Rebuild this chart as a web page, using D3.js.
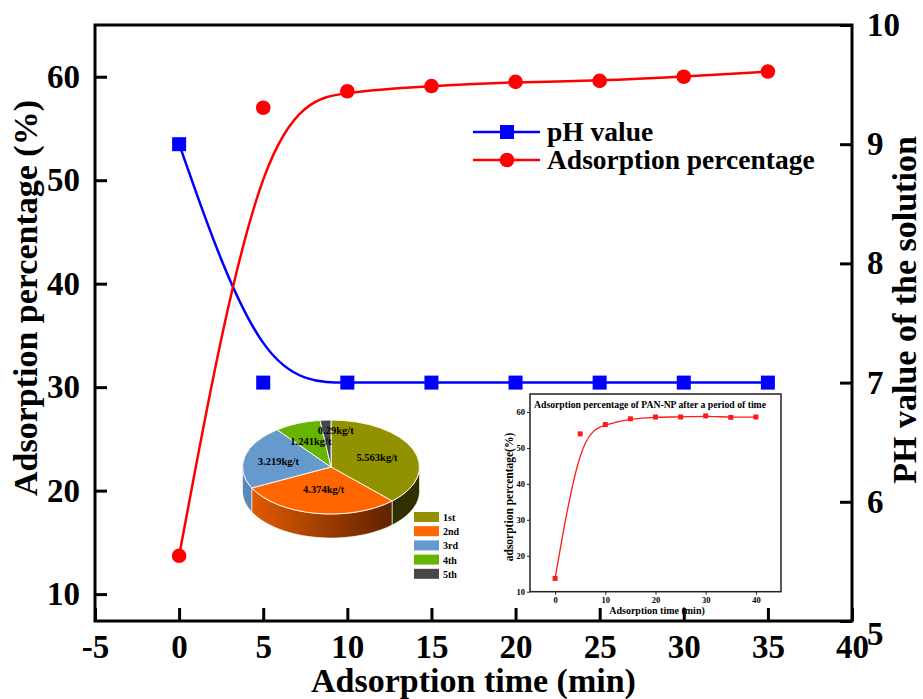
<!DOCTYPE html>
<html>
<head>
<meta charset="utf-8">
<script src="https://cdn.jsdelivr.net/npm/d3@7"></script>
<style>
  body { margin: 0; background: #fff; }
  text { font-family: "Liberation Serif", "Times New Roman", serif; font-weight: bold; fill: #000; }
</style>
</head>
<body>
<svg id="chart" width="923" height="699"></svg>
<script>
// ---- main series ----
const times = [0, 5, 10, 15, 20, 25, 30, 35];
const phValues = [9.0, 7.0, 7.0, 7.0, 7.0, 7.0, 7.0, 7.0];
const adsorption = [13.7, 57.0, 58.6, 59.1, 59.5, 59.6, 60.0, 60.5];
const xTicks = [-5, 0, 5, 10, 15, 20, 25, 30, 35, 40];
const leftTicks = [10, 20, 30, 40, 50, 60];
const rightTicks = [5, 6, 7, 8, 9, 10];
const legendNames = ["pH value", "Adsorption percentage"];

// ---- pie of adsorption per cycle ----
const pieLabels = ["1st", "2nd", "3rd", "4th", "5th"];
const pieValues = [5.563, 4.374, 3.219, 1.241, 0.29];
const pieColors = ["#929200", "#ff6600", "#6699cc", "#66b300", "#474747"];

// ---- inset curve ----
const insetTimes = [0, 5, 10, 15, 20, 25, 30, 35, 40];
const insetAdsorption = [13.7, 53.9, 56.5, 58.1, 58.6, 58.6, 58.9, 58.5, 58.6];
const insetXTicks = [0, 10, 20, 30, 40];
const insetYTicks = [10, 20, 30, 40, 50, 60];

const svg = d3.select("#chart");
const defs = svg.append("defs");

// ================= main plot frame =================
const L = 95, R = 852, T = 25, B = 621;
const x = d3.scaleLinear().domain([-5, 40]).range([L, R]);
const yL = d3.scaleLinear().domain([7.4, 65]).range([B, T]);
const yR = d3.scaleLinear().domain([5, 10]).range([B, T]);

// ================= inset chart =================
const inset = svg.append("g");
const iL = 530, iR = 781, iT = 394, iB = 591.7;
const ix = d3.scaleLinear().domain([-5, 45]).range([iL, iR]);
const iy = d3.scaleLinear().domain([10, 65]).range([iB, iT]);

inset.append("g")
  .attr("transform", `translate(0,${iB})`)
  .call(d3.axisBottom(ix).tickValues(insetXTicks).tickSize(3).tickPadding(2))
  .call(g => g.select(".domain").remove())
  .call(g => g.selectAll("line").attr("stroke", "#222").attr("stroke-width", 1))
  .call(g => g.selectAll("text").style("font-size", "8.5px").attr("fill", "#222"));
inset.append("g")
  .attr("transform", `translate(${iL},0)`)
  .call(d3.axisLeft(iy).tickValues(insetYTicks).tickSize(3).tickPadding(2))
  .call(g => g.select(".domain").remove())
  .call(g => g.selectAll("line").attr("stroke", "#222").attr("stroke-width", 1))
  .call(g => g.selectAll("text").style("font-size", "8.5px").attr("fill", "#222"));
inset.append("rect")
  .attr("x", iL).attr("y", iT).attr("width", iR - iL).attr("height", iB - iT)
  .attr("fill", "none").attr("stroke", "#222").attr("stroke-width", 1.5);

const insetLine = d3.line().curve(d3.curveBasis)
  .x((d, i) => ix(insetTimes[i])).y(d => iy(d));
inset.append("path").datum(insetAdsorption)
  .attr("d", insetLine).attr("fill", "none").attr("stroke", "#ff1a1a").attr("stroke-width", 1.3);
inset.selectAll("rect.pt").data(insetAdsorption).join("rect").attr("class", "pt")
  .attr("x", (d, i) => ix(insetTimes[i]) - 2.5).attr("y", d => iy(d) - 2.5)
  .attr("width", 5).attr("height", 5).attr("fill", "#ff1a1a");

inset.append("text").attr("x", 650).attr("y", 408).attr("text-anchor", "middle")
  .style("font-size", "9.7px").attr("fill", "#222")
  .text("Adsorption percentage of PAN-NP after a period of time");
inset.append("text").attr("x", 657).attr("y", 614).attr("text-anchor", "middle")
  .style("font-size", "10px").attr("fill", "#222")
  .text("Adsorption time (min)");
inset.append("text")
  .attr("transform", `translate(513,497) rotate(-90)`).attr("text-anchor", "middle")
  .style("font-size", "11.5px").attr("fill", "#222")
  .text("adsorption percentage(%)");

// ================= 3D pie =================
const pc = { cx: 331, cy: 467, rx: 88.5, ry: 47, depth: 24 };
const arcs = d3.pie().sort(null).value(d => d)(pieValues);
const pieG = svg.append("g");
const pt = (a, dy = 0) => [pc.cx + pc.rx * Math.sin(a), pc.cy - pc.ry * Math.cos(a) + dy];

const sideShades = [
  ["#4a4a00", "#2f2f00"],
  ["#ea5e00", "#5e2200"],
  ["#5c8ab8", "#4a76a0"],
  ["#4f8a00", "#3d6b00"],
  ["#333333", "#222222"]
];
sideShades.forEach((s, i) => {
  const gr = defs.append("linearGradient").attr("id", "side" + i)
    .attr("gradientUnits", "userSpaceOnUse")
    .attr("x1", pc.cx - pc.rx).attr("x2", pc.cx + pc.rx * 0.7).attr("y1", 0).attr("y2", 0);
  gr.append("stop").attr("offset", 0).attr("stop-color", s[0]);
  gr.append("stop").attr("offset", 1).attr("stop-color", s[1]);
});

// side walls: only the front half of the rim is visible
arcs.forEach((a, i) => {
  const s = Math.max(a.startAngle, Math.PI / 2);
  const e = Math.min(a.endAngle, Math.PI * 3 / 2);
  if (e <= s) return;
  const steps = d3.range(0, 41).map(k => s + (e - s) * k / 40);
  const top = steps.map(t => pt(t));
  const bottom = steps.slice().reverse().map(t => pt(t, pc.depth));
  pieG.append("path")
    .attr("d", d3.line()(top.concat(bottom)) + "Z")
    .attr("fill", `url(#side${i})`)
    .attr("stroke", "#ffffff").attr("stroke-width", 0.6);
});

const topG = pieG.append("g")
  .attr("transform", `translate(${pc.cx},${pc.cy}) scale(1,${pc.ry / pc.rx})`);
topG.selectAll("path").data(arcs).join("path")
  .attr("d", d3.arc().innerRadius(0).outerRadius(pc.rx))
  .attr("fill", (d, i) => pieColors[i])
  .attr("stroke", "#fff").attr("stroke-width", 0.9)
  .attr("vector-effect", "non-scaling-stroke");

// value labels on the top face
const labelRadius = [0.56, 0.48, 0.61, 0.6, 0.78];
const labelShift = [0, 0, 0, 0, 9];
pieG.selectAll("text.val").data(arcs).join("text").attr("class", "val")
  .attr("x", (d, i) => pc.cx + pc.rx * labelRadius[i] * Math.sin((d.startAngle + d.endAngle) / 2) + labelShift[i])
  .attr("y", (d, i) => pc.cy - pc.ry * labelRadius[i] * Math.cos((d.startAngle + d.endAngle) / 2) + 4)
  .attr("text-anchor", "middle")
  .style("font-size", "10.5px").attr("fill", "#111")
  .text(d => d.value + "kg/t");

// pie legend
const pl = svg.append("g");
pieLabels.forEach((name, i) => {
  const yy = 512 + i * 14.2;
  pl.append("rect").attr("x", 414).attr("y", yy).attr("width", 25).attr("height", 10)
    .attr("fill", pieColors[i]);
  pl.append("text").attr("x", 443).attr("y", yy + 9).style("font-size", "10px").text(name);
});

// ================= main axes =================
const axB = svg.append("g").attr("transform", `translate(0,${B})`)
  .call(d3.axisBottom(x).tickValues(xTicks).tickSize(-13).tickPadding(14).tickFormat(d3.format("d")));
const axL = svg.append("g").attr("transform", `translate(${L},0)`)
  .call(d3.axisLeft(yL).tickValues(leftTicks).tickSize(-12).tickPadding(15).tickFormat(d3.format("d")));
const axR = svg.append("g").attr("transform", `translate(${R},0)`)
  .call(d3.axisRight(yR).tickValues(rightTicks).tickSize(-12).tickPadding(15).tickFormat(d3.format("d")));
[axB, axL, axR].forEach(g => {
  g.select(".domain").remove();
  g.selectAll("line").attr("stroke", "#000").attr("stroke-width", 3);
  g.selectAll("text").style("font-size", "33px").attr("fill", "#000")
    .style("font-family", '"Liberation Serif", serif').style("font-weight", "bold");
});
axB.selectAll("text").text(d => d < 0 ? "-" + Math.abs(d) : d);
// the lowest right-hand label sits a little below the corner
axR.selectAll(".tick").filter(d => d === 5).select("text").attr("dy", "0.7em");

svg.append("rect").attr("x", L).attr("y", T).attr("width", R - L).attr("height", B - T)
  .attr("fill", "none").attr("stroke", "#000").attr("stroke-width", 3);

// axis titles
svg.append("text").attr("x", (L + R) / 2).attr("y", 692).attr("text-anchor", "middle")
  .style("font-size", "34px").text("Adsorption time (min)");
svg.append("text").attr("transform", "translate(37,298) rotate(-90)").attr("text-anchor", "middle")
  .style("font-size", "34px").text("Adsorption percentage (%)");
svg.append("text").attr("transform", "translate(916,310) rotate(-90)").attr("text-anchor", "middle")
  .style("font-size", "34px").text("PH value of the solution");

// ================= main series =================
const blue = "#0000ff", red = "#ff0000";
const phLine = d3.line().curve(d3.curveBasis).x((d, i) => x(times[i])).y(d => yR(d));
const adLine = d3.line().curve(d3.curveBasis).x((d, i) => x(times[i])).y(d => yL(d));

svg.append("path").datum(phValues).attr("d", phLine)
  .attr("fill", "none").attr("stroke", blue).attr("stroke-width", 2.5);
svg.append("path").datum(adsorption).attr("d", adLine)
  .attr("fill", "none").attr("stroke", red).attr("stroke-width", 2.5);

svg.selectAll("rect.ph").data(phValues).join("rect").attr("class", "ph")
  .attr("x", (d, i) => x(times[i]) - 7).attr("y", d => yR(d) - 7)
  .attr("width", 14).attr("height", 14).attr("fill", blue);
svg.selectAll("circle.ad").data(adsorption).join("circle").attr("class", "ad")
  .attr("cx", (d, i) => x(times[i])).attr("cy", d => yL(d)).attr("r", 7.3).attr("fill", red);

// legend
const lg = svg.append("g");
const legY = [132, 160];
[blue, red].forEach((c, i) => {
  lg.append("line").attr("x1", 473).attr("x2", 540).attr("y1", legY[i]).attr("y2", legY[i])
    .attr("stroke", c).attr("stroke-width", 2.5);
  if (i === 0) {
    lg.append("rect").attr("x", 507 - 7).attr("y", legY[i] - 7).attr("width", 14).attr("height", 14).attr("fill", c);
  } else {
    lg.append("circle").attr("cx", 507).attr("cy", legY[i]).attr("r", 7.3).attr("fill", c);
  }
  lg.append("text").attr("x", 547).attr("y", legY[i] + 9).style("font-size", "27.5px").text(legendNames[i]);
});
</script>
</body>
</html>
